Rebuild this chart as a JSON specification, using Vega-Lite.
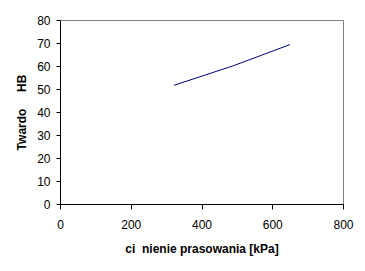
{
  "$schema": "https://vega.github.io/schema/vega-lite/v6.json",
  "width": 283,
  "height": 184,
  "autosize": {"type": "none"},
  "padding": {"left": 60, "top": 20, "right": 22, "bottom": 67},
  "background": "white",
  "config": {
    "view": {"stroke": "#808080", "strokeWidth": 1},
    "font": "Liberation Sans",
    "axis": {
      "grid": false,
      "domainColor": "black",
      "tickColor": "black",
      "labelColor": "black",
      "titleColor": "black",
      "labelFont": "Liberation Sans",
      "titleFont": "Liberation Sans",
      "labelFontSize": 12,
      "titleFontSize": 12,
      "titleFontWeight": "bold"
    }
  },
  "data": {
    "values": [
      {"pressure": 322, "hardness": 51.6},
      {"pressure": 488, "hardness": 60.0},
      {"pressure": 650, "hardness": 69.3}
    ]
  },
  "mark": {"type": "line", "color": "#000080", "strokeWidth": 1},
  "encoding": {
    "x": {
      "field": "pressure",
      "type": "quantitative",
      "scale": {"domain": [0, 800], "nice": false, "zero": true},
      "axis": {
        "values": [0, 200, 400, 600, 800],
        "title": "ci\u00a0\u00a0nienie prasowania [kPa]",
        "tickSize": 5,
        "labelPadding": 10,
        "titlePadding": 13,
        "labelFlush": false
      }
    },
    "y": {
      "field": "hardness",
      "type": "quantitative",
      "scale": {"domain": [0, 80], "nice": false},
      "axis": {
        "values": [0, 10, 20, 30, 40, 50, 60, 70, 80],
        "title": "Twardo\u00a0\u00a0\u00a0\u00a0\u00a0HB",
        "tickSize": 4,
        "labelPadding": 6,
        "titlePadding": 8,
        "labelFlush": false
      }
    }
  }
}
